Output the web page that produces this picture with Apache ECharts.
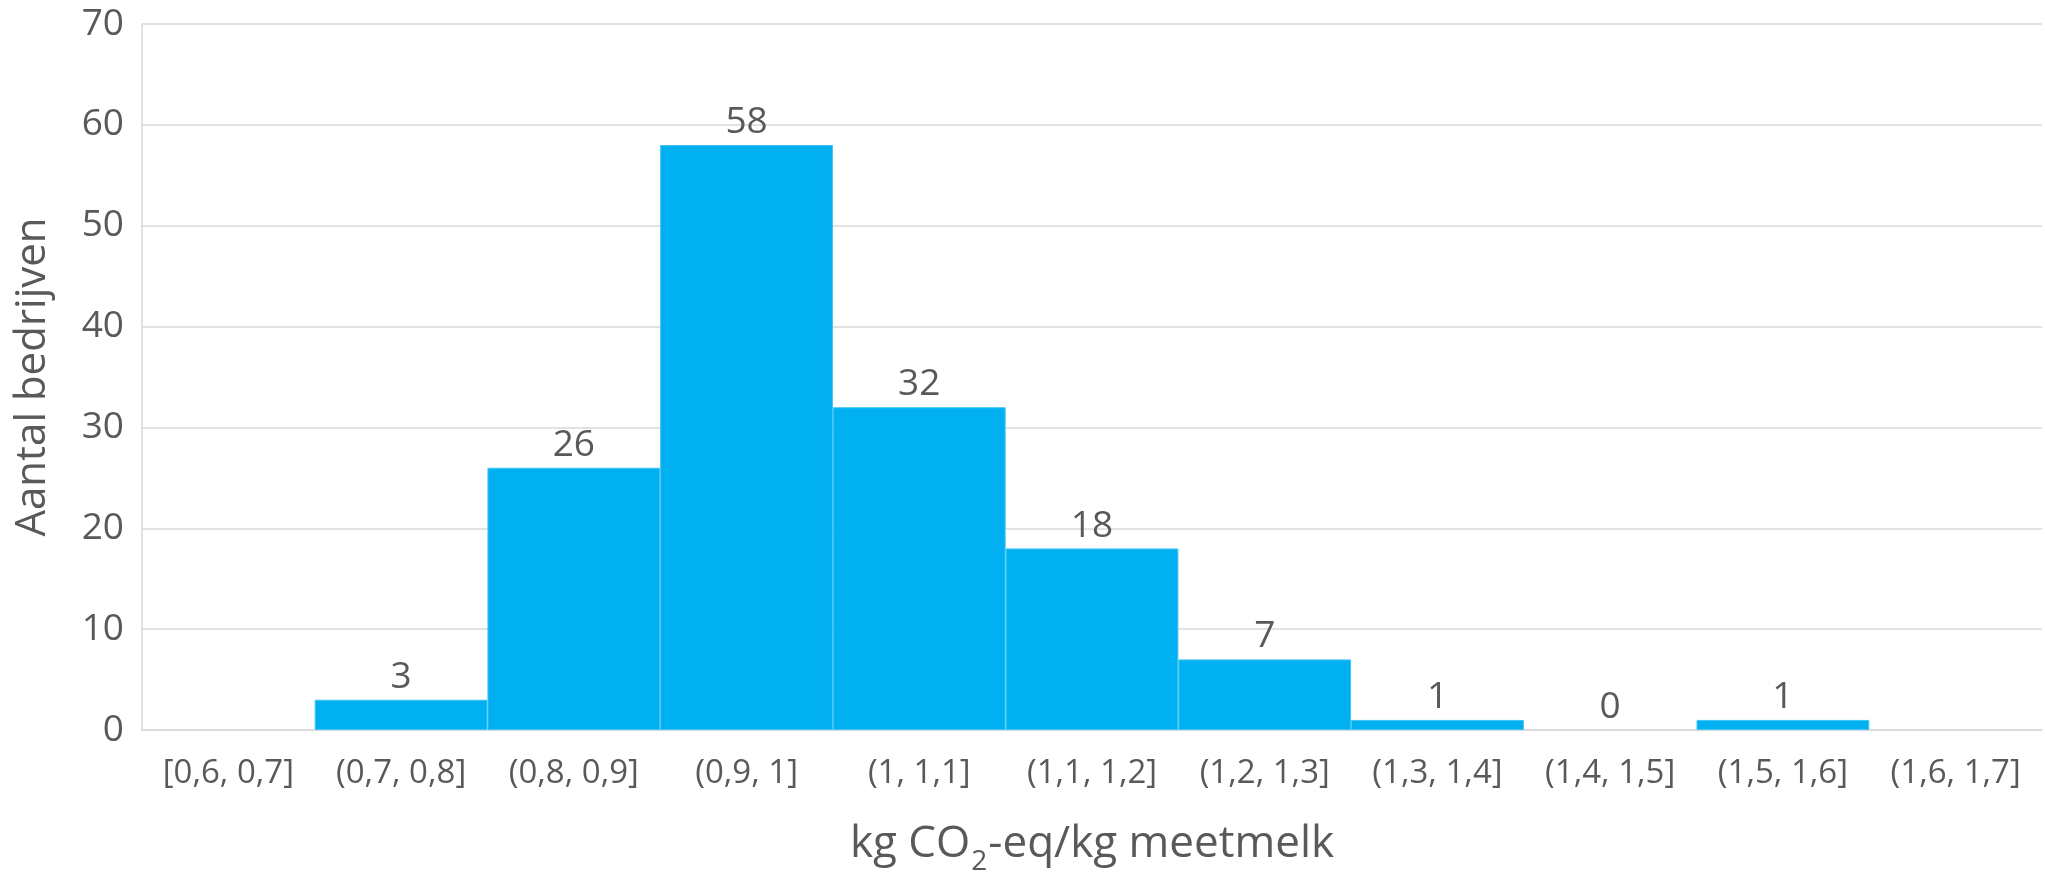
<!DOCTYPE html>
<html>
<head>
<meta charset="utf-8">
<title>Aantal bedrijven per klasse</title>
<script src="https://cdn.jsdelivr.net/npm/echarts@6/dist/echarts.min.js"></script>
<style>
  html, body { margin: 0; padding: 0; background: #ffffff; }
  #chart { width: 2045px; height: 873px; }
</style>
</head>
<body>
<div id="chart"></div>
<script>
// Klassen van de CO2-footprint (kg CO2-eq/kg meetmelk)
const categories = [
  '[0,6, 0,7]', '(0,7, 0,8]', '(0,8, 0,9]', '(0,9, 1]', '(1, 1,1]', '(1,1, 1,2]',
  '(1,2, 1,3]', '(1,3, 1,4]', '(1,4, 1,5]', '(1,5, 1,6]', '(1,6, 1,7]'
];
// Aantal bedrijven per klasse (lege klassen zonder label: null)
const counts = [null, 3, 26, 58, 32, 18, 7, 1, 0, 1, null];
// Waarden op de verticale as
const yTicks = [0, 10, 20, 30, 40, 50, 60, 70];

const textColor = '#595959';
const gridColor = '#d9d9d9';
const barColor = '#00b0f0';
const font = '"Open Sans", "Noto Sans", sans-serif';

// Een staaf met waarde 0 krijgt geen rand, zodat er geen lijntje zichtbaar is
const barData = counts.map(v => ({
  value: v,
  itemStyle: v === 0 ? { borderWidth: 0 } : undefined
}));

const chart = echarts.init(document.getElementById('chart'), null, { renderer: 'canvas' });

chart.setOption({
  animation: false,
  backgroundColor: '#ffffff',
  grid: { left: 142, right: 3, top: 24, bottom: 143, containLabel: false, outerBoundsMode: 'none' },
  xAxis: {
    type: 'category',
    data: categories,
    name: '{a|kg CO}{s|2}{a|-eq/kg meetmelk}',
    nameLocation: 'middle',
    nameGap: 92,
    nameTextStyle: {
      rich: {
        a: { fontFamily: font, fontSize: 44, color: textColor, lineHeight: 54, verticalAlign: 'top' },
        s: { fontFamily: font, fontSize: 28, color: textColor, lineHeight: 20, verticalAlign: 'bottom', padding: [0, 1, 0, 1] }
      }
    },
    axisLine: { show: true, lineStyle: { color: gridColor, width: 1.5 } },
    axisTick: { show: false },
    axisLabel: {
      interval: 0,
      margin: 27,
      color: textColor,
      fontFamily: font,
      fontSize: 33
    },
    splitLine: { show: false }
  },
  yAxis: {
    type: 'value',
    min: yTicks[0],
    max: yTicks[yTicks.length - 1],
    interval: yTicks[1] - yTicks[0],
    name: 'Aantal bedrijven',
    nameLocation: 'middle',
    nameGap: 88,
    nameTextStyle: { fontFamily: font, fontSize: 42, color: textColor, lineHeight: 42 },
    axisLine: { show: true, lineStyle: { color: gridColor, width: 1.5 } },
    axisTick: { show: false },
    axisLabel: {
      margin: 18,
      color: textColor,
      fontFamily: font,
      fontSize: 37
    },
    splitLine: { show: true, lineStyle: { color: gridColor, width: 1.5 } }
  },
  series: [{
    type: 'bar',
    data: barData,
    barCategoryGap: '0%',
    itemStyle: { color: barColor, borderColor: '#3cc3f4', borderWidth: 1 },
    label: {
      show: true,
      position: 'top',
      distance: 4,
      color: textColor,
      fontFamily: font,
      fontSize: 37
    }
  }]
});
</script>
</body>
</html>
